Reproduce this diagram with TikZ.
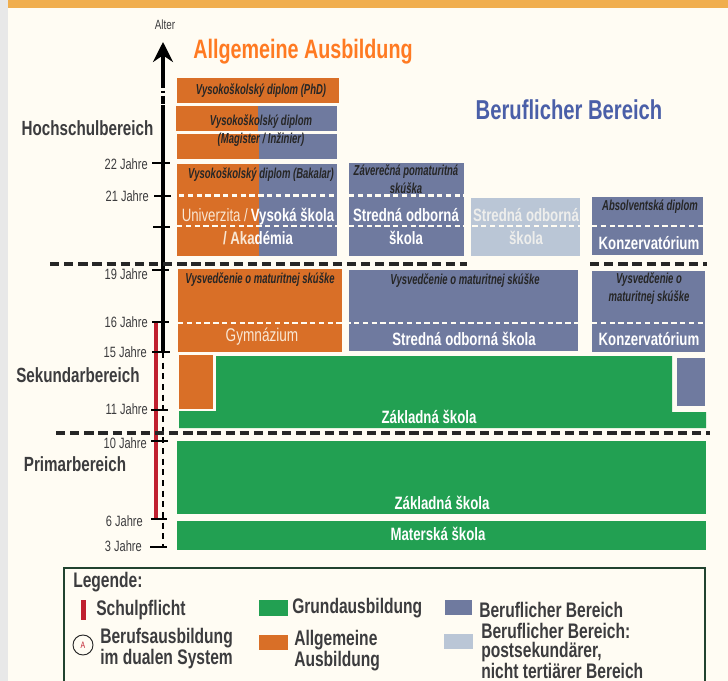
\documentclass[tikz,border=0pt]{standalone}
\usepackage{fontspec}
\usetikzlibrary{arrows.meta}
\setmainfont{Liberation Sans}
\newfontfamily\nar[FakeStretch=0.74]{Liberation Sans}
\newfontfamily\tight[FakeStretch=0.66]{Liberation Sans}
\newcommand\fs[1]{\fontsize{#1}{#1}\selectfont}
\newcommand\fsl[2]{\fontsize{#1}{#2}\selectfont}
\definecolor{bgc}{HTML}{FFFCF3}
\definecolor{bandc}{HTML}{F0AE4E}
\definecolor{stripc}{HTML}{E8E8E8}
\definecolor{orc}{HTML}{D96F27}
\definecolor{blc}{HTML}{6F7A9F}
\definecolor{grc}{HTML}{22A052}
\definecolor{ltc}{HTML}{BAC6D6}
\definecolor{redc}{HTML}{C0202F}
\definecolor{txc}{HTML}{3C3C3E}
\definecolor{tiA}{HTML}{FF7A22}
\definecolor{tiB}{HTML}{4A5FA8}
\tikzset{
  wdash/.style={draw=bgc,line width=1.9pt,dash pattern=on 4pt off 2.6pt},
  kdash/.style={draw=black!85,line width=2.3pt,dash pattern=on 7pt off 3.6pt},
  tickm/.style={draw=black,line width=1.6pt},
  axisl/.style={draw=black,line width=2.4pt},
  agel/.style={font=\nar\fs{11.2},text=txc,anchor=east,inner sep=0pt},
  areal/.style={font=\nar\bfseries\fs{15.4},text=txc,inner sep=0pt},
  dipl/.style={font=\tight\bfseries\itshape\fsl{10.8}{13.5},text=black!85,inner sep=0pt,align=center},
  schl/.style={font=\nar\bfseries\fsl{13.4}{17},text=white,inner sep=0pt,align=center},
  legl/.style={font=\nar\bfseries\fsl{15.8}{13.6},text=txc,inner sep=0pt,align=left,anchor=west},
}
\begin{document}
\begin{tikzpicture}[x=0.75pt,y=-0.75pt]
\useasboundingbox (0,0) rectangle (728,681);
\fill[bgc] (0,0) rectangle (728,681);
\fill[stripc] (0,0) rectangle (8,681);
\fill[bandc] (8,0) rectangle (728,8);
% --- tertiary
\fill[orc] (177,78) rectangle (339,103);
\fill[orc] (176,106) rectangle (258,131);
\fill[blc] (258,106) rectangle (337,131);
\fill[orc] (177,134.5) rectangle (259,159);
\fill[blc] (259,134.5) rectangle (337,159);
\fill[orc] (177,164) rectangle (259,256);
\fill[blc] (259,164) rectangle (337,256);
\fill[blc] (349,163) rectangle (464,256);
\fill[ltc] (471,198) rectangle (580,256);
\fill[blc] (592,197) rectangle (703,255);
% --- upper secondary
\fill[orc] (178,269) rectangle (342,352);
\fill[blc] (349,270) rectangle (578,351);
\fill[blc] (592,271) rectangle (705,352);
% --- lower secondary
\fill[grc] (216,356) -- (672,356) -- (672,412) -- (706,412) -- (706,428) -- (179,428) -- (179,411) -- (216,411) -- cycle;
\fill[orc] (179,355) rectangle (213,409);
\fill[blc] (677,358) rectangle (705,406);
% --- primary
\fill[grc] (177,441) rectangle (706,514);
\fill[grc] (177,521) rectangle (706,550);
% --- white dotted lines
\draw[wdash] (179,195.5) -- (337,195.5);
\draw[wdash] (177,226) -- (337,226);
\draw[wdash] (349,195.5) -- (464,195.5);
\draw[wdash] (349,226) -- (580,226);
\draw[wdash] (592,226) -- (703,226);
\draw[wdash] (178,323) -- (578,323);
\draw[wdash] (592,323) -- (705,323);
% --- axis
\coordinate (axTop) at (163,42);
\coordinate (axA) at (163,80);
\coordinate (axB) at (163,105);
\coordinate (axC) at (163,352);
\coordinate (axD) at (163,547);
\coordinate (redT) at (156,323);
\coordinate (redB) at (156,518);
\draw[redc,line width=2.6pt] (redT) -- (redB);
\draw[axisl,-{Stealth[length=15pt,width=15pt,inset=5pt]}] (axA) -- (axTop);
\draw[axisl,dash pattern=on 6pt off 2pt on 2pt off 2pt] (axA) -- (axB);
\draw[axisl] (axB) -- (axC);
\draw[draw=black,line width=2.2pt,dash pattern=on 4.5pt off 3.5pt] (axC) -- (axD);
\foreach \yy/\xa/\xb in {163/152/170,196/154/171,227/153/170,270/152/169,322/152/169,352/152/170,410/151/168,441/151/168,519/151/167,547/150/167}
  \draw[tickm] (\xa,\yy) -- (\xb,\yy);
% --- black dashed
\draw[kdash] (50,264) -- (467,264);
\draw[kdash] (590,264) -- (707,264);
\draw[kdash] (56,433) -- (710,433);
% --- age labels
\node[font=\nar\fs{10},text=txc,inner sep=0pt] (alter) at (165,24.5) {Alter};
\node[agel] (a22) at (148,164) {22 Jahre};
\node[agel] (a21) at (149,196) {21 Jahre};
\node[agel] (a19) at (148,274) {19 Jahre};
\node[agel] (a16) at (148,322) {16 Jahre};
\node[agel] (a15) at (147,352) {15 Jahre};
\node[agel] (a11) at (148,409) {11 Jahre};
\node[agel] (a10) at (147,443) {10 Jahre};
\node[agel] (a6) at (143,521) {6 Jahre};
\node[agel] (a3) at (142,546) {3 Jahre};
% --- headings
\node[font=\nar\bfseries\fs{20},text=tiA,inner sep=0pt] (hA) at (303,52) {Allgemeine Ausbildung};
\node[font=\nar\bfseries\fs{20.5},text=tiB,inner sep=0pt] (hB) at (569,110) {Beruflicher Bereich};
\node[areal] (hs) at (87.5,128) {Hochschulbereich};
\node[areal] (ss) at (78,375) {Sekundarbereich};
\node[areal] (ps) at (75,464) {Primarbereich};
% --- diploma labels
\node[dipl] (d1) at (261,91) {Vysokoškolský diplom (PhD)};
\node[dipl] (d2) at (261,131) {Vysokoškolský diplom\\(Magister / Inžinier)};
\node[dipl] (d3) at (261,175) {Vysokoškolský diplom (Bakalar)};
\node[dipl] (d4) at (406,179) {Záverečná pomaturitná\\skúška};
\node[dipl] (d5) at (650,207) {Absolventská diplom};
\node[dipl] (d6) at (260,280) {Vysvedčenie o maturitnej skúške};
\node[dipl] (d7) at (465,281) {Vysvedčenie o maturitnej skúške};
\node[dipl] (d8) at (649,288.5) {Vysvedčenie o\\maturitnej skúške};
% --- school labels
\node[schl] (s1) at (258,226.5) {{\color{bgc!85!orc}\mdseries Univerzita /}\,Vysoká škola\\{\color{bgc!85!orc}/ Aka}démia};
\node[schl] (s2) at (406,226.5) {Stredná odborná\\škola};
\node[schl,text=bgc!75!ltc] (s3) at (526,226.5) {Stredná odborná\\škola};
\node[schl] (s4) at (649,243) {Konzervatórium};
\node[schl,font=\nar\fs{13.8},text=bgc!85!orc] (s5) at (262,337) {Gymnázium};
\node[schl] (s6) at (464,339) {Stredná odborná škola};
\node[schl] (s7) at (649,339) {Konzervatórium};
\node[schl] (s8) at (429,417) {Základná škola};
\node[schl] (s9) at (442,503) {Základná škola};
\node[schl] (s10) at (438,534) {Materská škola};
% --- legend
\draw[draw=black!55!grc!60!txc,line width=0.8pt] (64,681) -- (64,568) -- (705,568) -- (705,681);
\node[legl] (lg) at (73,582) {Legende:};
\fill[redc] (81,600) rectangle (85.5,620);
\node[legl] (l1) at (96,610) {Schulpflicht};
\node[circle,draw=black!85,line width=0.7pt,minimum size=15pt,inner sep=0pt,font=\nar\fs{7},text=redc] (lc) at (83,645) {A};
\node[legl] (l2) at (100,649) {Berufsausbildung\\im dualen System};
\fill[grc] (259,600) rectangle (288,616);
\node[legl] (l3) at (292,608) {Grundausbildung};
\fill[orc] (259,635) rectangle (288,650);
\node[legl] (l4) at (294,650.5) {Allgemeine\\Ausbildung};
\fill[blc] (445,600) rectangle (472,615);
\node[legl] (l5) at (479,610) {Beruflicher Bereich};
\fill[ltc] (444,634) rectangle (473,649);
\node[legl] (l6) at (481,651) {Beruflicher Bereich:\\postsekundärer,\\nicht tertiärer Bereich};
\end{tikzpicture}
\end{document}
